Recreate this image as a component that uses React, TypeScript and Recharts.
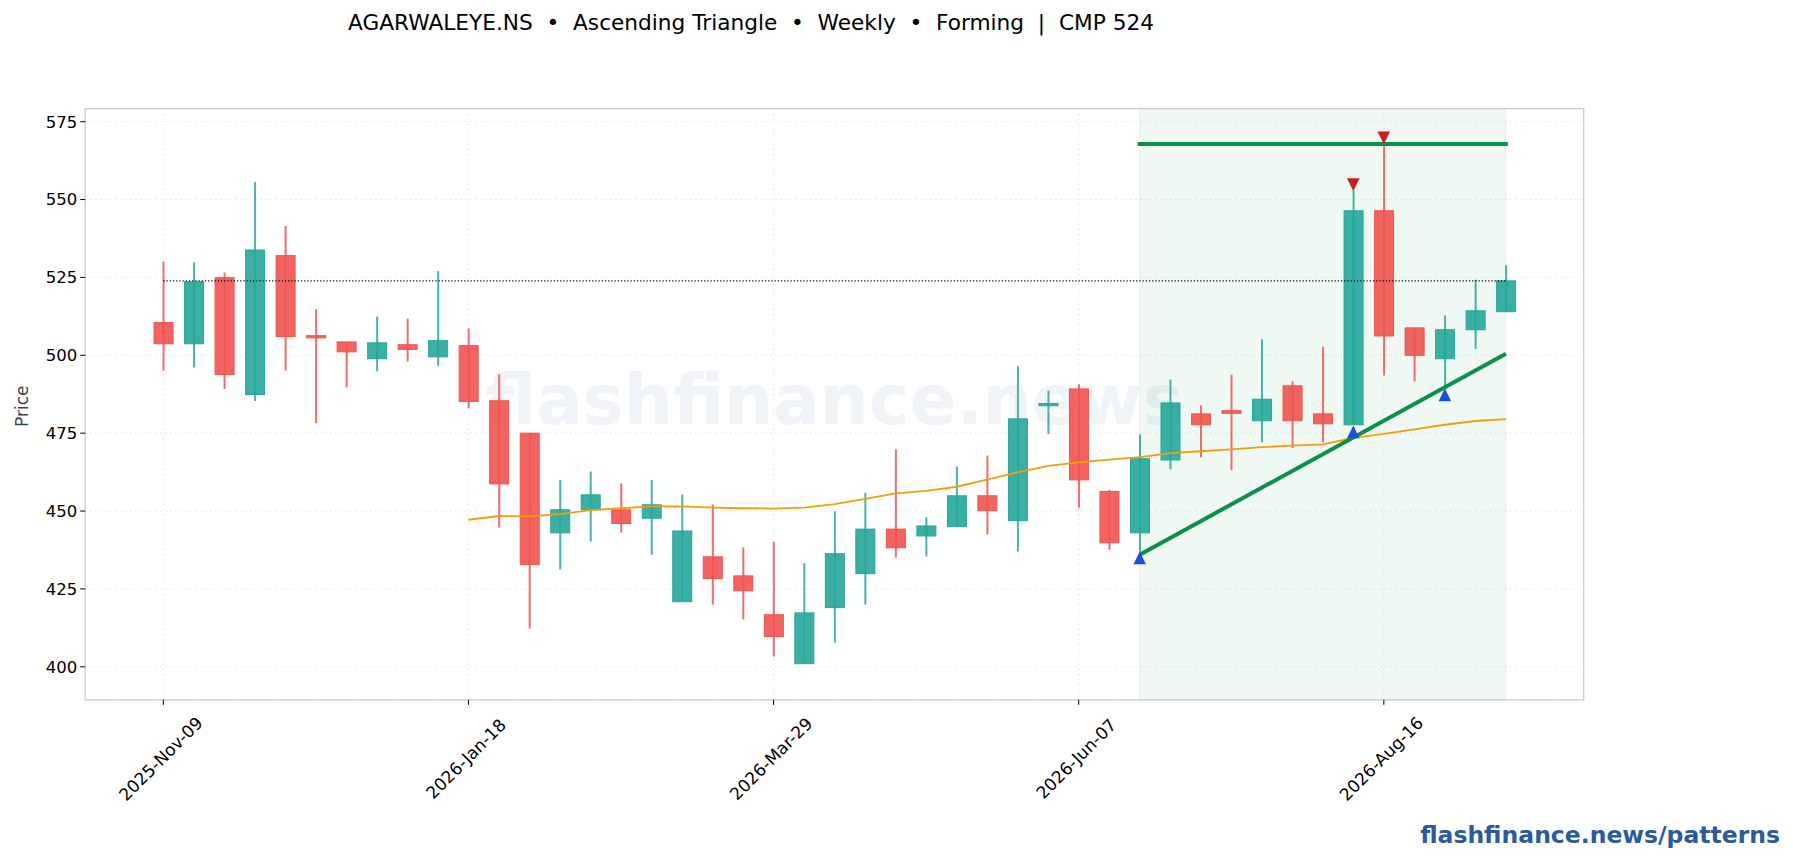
import { Bar, CartesianGrid, ComposedChart, Line, ReferenceArea, XAxis, YAxis } from 'recharts';

const opens = [510.5, 503.7, 524.9, 487.4, 532, 506.3, 504.3, 498.9, 503.4, 499.5, 503.1, 485.4, 475, 443, 450.4, 450.4, 447.7, 420.9, 435.3, 429.2, 416.7, 401, 419, 429.9, 444.2, 442, 445, 454.9, 446.9, 483.8, 489.2, 456.3, 443, 466.4, 481.2, 482.2, 479, 490.2, 481.2, 477.7, 546.4, 508.8, 498.9, 508.2, 514];
const closes = [503.7, 523.6, 493.8, 533.8, 506, 505.6, 501.1, 504, 501.9, 504.7, 485.2, 458.7, 432.8, 450.4, 455.2, 446, 452, 443.6, 428.3, 424.4, 409.7, 417.3, 436.3, 444.2, 438.2, 445.2, 454.9, 450.1, 479.6, 484.5, 460, 439.8, 466.8, 484.7, 477.7, 481.4, 485.9, 479, 478, 546.4, 506.2, 500, 508.2, 514.3, 523.9];
const highs = [530.1, 529.9, 526.6, 555.6, 541.5, 514.8, 504.3, 512.4, 511.8, 527, 508.6, 493.9, 475, 460, 462.7, 458.9, 460, 455.3, 452.1, 438.3, 440.2, 433.2, 449.9, 455.9, 469.8, 447.9, 464.3, 467.8, 496.5, 488.7, 490.7, 456.8, 474.6, 492.2, 483.9, 493.8, 505.1, 491.6, 502.8, 553, 568, 508.8, 512.8, 524.3, 528.9];
const lows = [495.1, 496.1, 489.2, 485.3, 495.1, 478.2, 489.7, 494.9, 498, 496.5, 483, 444.7, 412.3, 431.2, 440.2, 443.1, 436, 420.9, 420, 415.2, 403.3, 401, 407.7, 420, 435.1, 435.4, 445, 442.5, 437, 474.7, 451.1, 437.6, 436.2, 463.4, 467.3, 463.1, 472.1, 470.2, 472.1, 477.7, 493.5, 491.7, 489, 502, 514];

const movingAvg = [null, null, null, null, null, null, null, null, null, null, 447.2, 448.4, 448.3, 449, 450.3, 450.9, 451.5, 451.5, 451.1, 450.9, 450.8, 451.1, 452.2, 453.9, 455.7, 456.5, 457.8, 460.1, 462.4, 464.5, 465.6, 466.5, 467.3, 468.6, 469.2, 469.8, 470.5, 471, 471.4, 473.5, 474.8, 476.2, 477.7, 478.9, 479.5];

// [candle index, price]
const cmpLine = [[0, 523.9], [44, 523.9]];
const resistance = [[32, 567.8], [44, 567.8]];
const support = [[32, 436], [44, 500.5]];
const swingHighs = [[39, 554.8], [40, 569.8]];
const swingLows = [[32, 434.9], [39, 475.4], [42, 487.3]];

const xTicks = [0, 10, 20, 30, 40];
const xLabels = ['2025-Nov-09', '2026-Jan-18', '2026-Mar-29', '2026-Jun-07', '2026-Aug-16'];
const yTicks = [400, 425, 450, 475, 500, 525, 550, 575];

const valueAt = (pairs: number[][], i: number) => {
  const hit = pairs.find(p => p[0] === i);
  return hit ? hit[1] : null;
};

const chartData = opens.map((open, i) => ({
  i,
  open,
  close: closes[i],
  high: highs[i],
  low: lows[i],
  ma: movingAvg[i],
  cmp: valueAt(cmpLine, i),
  resistance: valueAt(resistance, i),
  support: valueAt(support, i),
  swingHigh: valueAt(swingHighs, i),
  swingLow: valueAt(swingLows, i),
}));

const FONT = '"DejaVu Sans", sans-serif';
const UP = '#26a69a';
const DOWN = '#ef5350';
const GREEN = '#0b8f4d';

function Candle(props: any) {
  const { x, y, width, height, payload } = props;
  const up = payload.close >= payload.open;
  const color = up ? UP : DOWN;
  const perUnit = height / (payload.high - payload.low);
  const top = y + (payload.high - Math.max(payload.open, payload.close)) * perUnit;
  const bodyH = Math.abs(payload.open - payload.close) * perUnit;
  const cx = x + width / 2;
  return (
    <g>
      <line x1={cx} x2={cx} y1={y} y2={y + height} stroke={color} strokeWidth={2} strokeOpacity={0.85} />
      <rect x={x} y={top} width={width} height={bodyH} fill={color} fillOpacity={0.9} stroke={color} strokeWidth={1} />
    </g>
  );
}

function triangleDot(color: string, down: boolean) {
  return (props: any) => {
    const { cx, cy, key } = props;
    if (cy == null) return <g key={key} />;
    const h = 6.3;
    const pts = down
      ? `${cx - h},${cy - h} ${cx + h},${cy - h} ${cx},${cy + h}`
      : `${cx - h},${cy + h} ${cx + h},${cy + h} ${cx},${cy - h}`;
    return <polygon key={key} points={pts} fill={color} />;
  };
}

function DateTick({ x, y, payload }: any) {
  const label = xLabels[xTicks.indexOf(payload.value)];
  const cx = x - 2.5;
  const cy = y + 52;
  return (
    <text
      x={cx}
      y={cy}
      transform={`rotate(-45 ${cx} ${cy})`}
      textAnchor="middle"
      dominantBaseline="central"
      fontFamily={FONT}
      fontSize={17}
      fill="#000"
    >
      {label}
    </text>
  );
}

const absText = (style: React.CSSProperties) => ({
  position: 'absolute' as const,
  fontFamily: FONT,
  whiteSpace: 'pre' as const,
  lineHeight: 1,
  ...style,
});

export default function App() {
  return (
    <div style={{ position: 'absolute', left: 0, top: 0, width: 1793, height: 860, background: '#fff', overflow: 'hidden' }}>
      <div style={absText({ left: 348, top: 12, fontSize: 21.66, color: '#000' })}>
        {'AGARWALEYE.NS  •  Ascending Triangle  •  Weekly  •  Forming  |  CMP 524'}
      </div>
      <div style={absText({ left: 485, top: 365.6, fontSize: 69, fontWeight: 700, color: '#f0f3f8' })}>
        flashfinance.news
      </div>
      <div style={absText({ right: 13, top: 823.5, fontSize: 23.5, fontWeight: 700, color: '#2c5aa0' })}>
        flashfinance.news/patterns
      </div>
      <div style={{ position: 'absolute', left: 0, top: 0 }}>
        <ComposedChart
          width={1793}
          height={860}
          data={chartData}
          margin={{ top: 108.6, right: 209.3, bottom: 100.2, left: 25.2 }}
        >
          <ReferenceArea x1={32} x2={44} y1={389.4} y2={579.2} fill="#0b8f4d" fillOpacity={0.065} stroke="#0b8f4d" strokeOpacity={0.07} />
          <CartesianGrid stroke="#e3e3e3" strokeWidth={1} strokeDasharray="1.5 3.5" />
          <ReferenceArea x1={-2.56} x2={46.55} y1={389.4} y2={579.2} fill="none" stroke="#cccccc" strokeWidth={1.3} ifOverflow="visible" />
          <XAxis
            dataKey="i"
            type="number"
            domain={[-2.56, 46.55]}
            ticks={xTicks}
            interval={0}
            axisLine={false}
            tickSize={5}
            tickLine={{ stroke: '#000', strokeWidth: 1 }}
            tick={<DateTick />}
            height={60}
            allowDataOverflow
          />
          <YAxis
            type="number"
            domain={[389.4, 579.2]}
            ticks={yTicks}
            interval={0}
            width={60}
            axisLine={false}
            tickSize={5}
            tickMargin={3}
            tickLine={{ stroke: '#000', strokeWidth: 1 }}
            tick={{ fill: '#000', fontSize: 16.5, fontFamily: FONT }}
            label={{ value: 'Price', angle: -90, position: 'insideLeft', offset: -3, dy: 2, style: { fontFamily: FONT, fontSize: 17, fill: '#444', textAnchor: 'middle' } }}
            allowDataOverflow
          />
          <Bar dataKey={(d: any) => [d.low, d.high]} barSize={19} shape={<Candle />} isAnimationActive={false} />
          <Line dataKey="cmp" connectNulls stroke="#000" strokeWidth={1.2} strokeDasharray="1.2 2" dot={false} activeDot={false} isAnimationActive={false} />
          <Line dataKey="ma" stroke="#f59e0b" strokeWidth={1.8} dot={false} activeDot={false} isAnimationActive={false} />
          <Line dataKey="resistance" connectNulls stroke={GREEN} strokeWidth={4} strokeLinecap="square" dot={false} activeDot={false} isAnimationActive={false} />
          <Line dataKey="support" connectNulls stroke={GREEN} strokeWidth={4} dot={false} activeDot={false} isAnimationActive={false} />
          <Line dataKey="swingHigh" stroke="none" dot={triangleDot('#c81e1e', true)} activeDot={false} isAnimationActive={false} />
          <Line dataKey="swingLow" stroke="none" dot={triangleDot('#1d4ed8', false)} activeDot={false} isAnimationActive={false} />
        </ComposedChart>
      </div>
    </div>
  );
}
